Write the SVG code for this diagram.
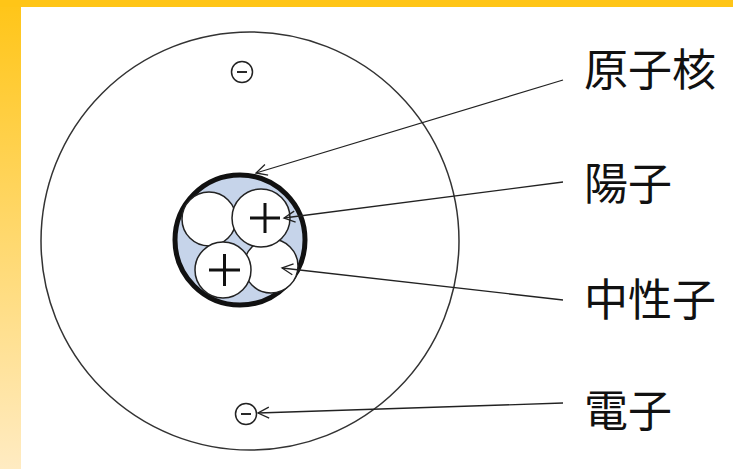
<svg xmlns="http://www.w3.org/2000/svg" width="733" height="469" viewBox="0 0 733 469">
<defs>
<linearGradient id="side" x1="0" y1="0" x2="0" y2="1">
<stop offset="0" stop-color="#FFC517"/>
<stop offset="1" stop-color="#FFEBC2"/>
</linearGradient>
<marker id="arr" viewBox="-12 -7 14 14" markerWidth="14" markerHeight="14" refX="0" refY="0" orient="auto" markerUnits="userSpaceOnUse">
<path d="M-11,-5.5 L0,0 L-11,5.5" fill="none" stroke="#222" stroke-width="1.3"/>
</marker>
<style>
.lbl{font-family:"Noto Sans CJK JP","Noto Sans CJK SC",sans-serif;font-size:44px;fill:#111;font-weight:400}
.ln{stroke:#222;stroke-width:1.3;fill:none;marker-end:url(#arr)}
.nuc{fill:#fff;stroke:#222;stroke-width:1.5}
.sign{stroke:#111;stroke-width:3;fill:none}
.el{fill:#fff;stroke:#222;stroke-width:1.5}
</style>
</defs>
<rect x="0" y="0" width="733" height="469" fill="#fff"/>
<rect x="0" y="0" width="21" height="469" fill="url(#side)"/>
<rect x="0" y="0" width="733" height="7" fill="#FFC517"/>

<g id="atom">
<circle cx="250" cy="241" r="209" fill="none" stroke="#333" stroke-width="1.5"/>
</g>

<g id="nucleus">
<circle cx="240" cy="240" r="65" fill="#C6D4EA" stroke="#111" stroke-width="5"/>
</g>
<g id="nucleon-tl">
<circle class="nuc" cx="209" cy="219" r="27"/>
</g>
<g id="neutron">
<circle class="nuc" cx="271" cy="266" r="27"/>
</g>
<g id="proton-bl">
<circle class="nuc" cx="223" cy="270" r="28"/>
<path class="sign" d="M209,270 H240 M224.5,254 V286"/>
</g>
<g id="proton">
<circle class="nuc" cx="261" cy="218" r="29"/>
<path class="sign" d="M250,218 H280 M265,203 V233"/>
</g>

<g id="electron-top">
<circle class="el" cx="242" cy="72" r="10.5"/>
<path d="M237,72 H247" stroke="#111" stroke-width="1.8"/>
</g>
<g id="electron-bottom">
<circle class="el" cx="246" cy="414" r="10.5"/>
<path d="M241,414 H251" stroke="#111" stroke-width="1.8"/>
</g>

<g id="connectors">
<line class="ln" x1="563" y1="80" x2="256" y2="173"/>
<line class="ln" x1="563" y1="182" x2="284" y2="218"/>
<line class="ln" x1="563" y1="300" x2="282" y2="268"/>
<line class="ln" x1="563" y1="403" x2="258" y2="413"/>
</g>

<g id="label-nucleus"><text class="lbl" x="584" y="86">原子核</text></g>
<g id="label-proton"><text class="lbl" x="584" y="200">陽子</text></g>
<g id="label-neutron"><text class="lbl" x="584" y="316">中性子</text></g>
<g id="label-electron"><text class="lbl" x="584" y="427">電子</text></g>
</svg>
